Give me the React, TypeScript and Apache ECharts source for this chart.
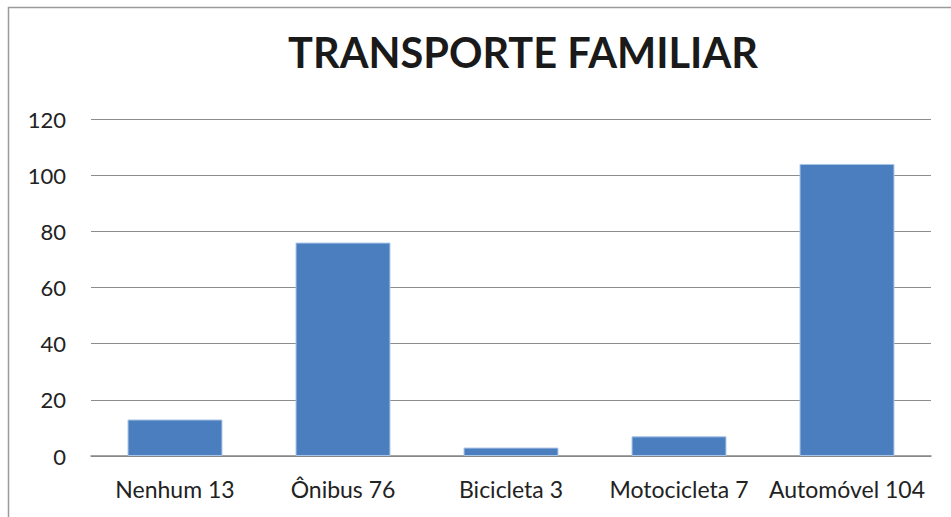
import React, { useEffect, useRef } from "react";
import * as echarts from "echarts";

const categories = ["Nenhum 13", "Ônibus 76", "Bicicleta 3", "Motocicleta 7", "Automóvel 104"];
const values = [13, 76, 3, 7, 104];
const titleText = "TRANSPORTE FAMILIAR";

export default function App() {
  const ref = useRef<HTMLDivElement>(null);
  useEffect(() => {
    if (!ref.current) return;
    const chart = echarts.init(ref.current, null, { renderer: "svg" });
    chart.setOption({
      animation: false,
      backgroundColor: "#ffffff",
      textStyle: { fontFamily: "Lato" },
      title: {
        text: titleText,
        left: 518,
        textAlign: "center",
        top: 26,
        textStyle: { fontFamily: "Lato", fontWeight: "bold", fontSize: 41.5, color: "#1a1a1a" },
      },
      graphic: [
        {
          type: "rect",
          shape: { x: 8.5, y: 7.5, width: 1000, height: 600 },
          style: { fill: "none", stroke: "#9a9a9a", lineWidth: 1.5 },
          silent: true,
        },
      ],
      grid: { left: 91, right: 20, top: 119, bottom: 61 },
      xAxis: {
        type: "category",
        data: categories,
        axisTick: { show: false },
        axisLine: { lineStyle: { color: "#868686", width: 1.5 } },
        axisLabel: { color: "#222222", fontSize: 23, margin: 21, interval: 0, fontFamily: "Lato" },
      },
      yAxis: {
        type: "value",
        min: 0,
        max: 120,
        interval: 20,
        axisLine: { show: false },
        axisTick: { show: false },
        splitLine: { lineStyle: { color: "#8c8c8c", width: 1.2 } },
        axisLabel: { color: "#222222", fontSize: 22, margin: 25, fontFamily: "Lato" },
      },
      series: [
        {
          type: "bar",
          data: values,
          barWidth: "56.5%",
          itemStyle: { color: "#4a7ebf", borderColor: "#a8c4e6", borderWidth: 1 },
        },
      ],
    });
    return () => chart.dispose();
  }, []);
  return <div ref={ref} style={{ position: "fixed", left: 0, top: 0, width: 951, height: 517 }} />;
}
